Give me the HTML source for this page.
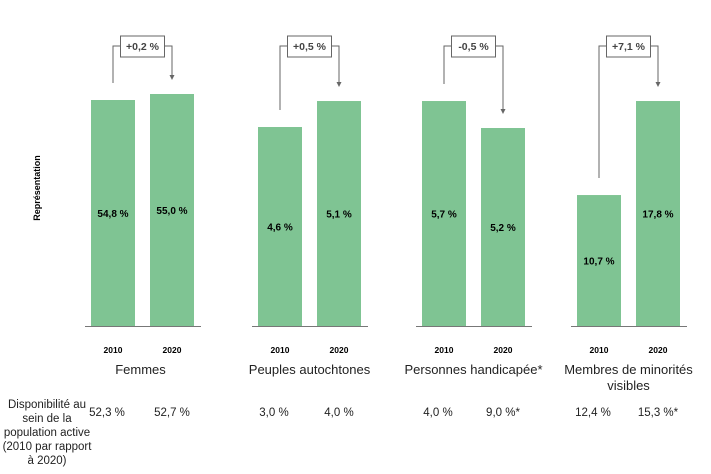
<!DOCTYPE html>
<html><head><meta charset="utf-8"><style>
body{margin:0;background:#fff;font-family:"Liberation Sans",sans-serif}
svg text{font-family:"Liberation Sans",sans-serif}
</style></head><body>
<svg id="c" width="711" height="469">
<text transform="translate(40,188) rotate(-90)" text-anchor="middle" font-size="9" font-weight="bold">Représentation</text>
<g font-size="11.5" text-anchor="middle" fill="#222">
<text x="47" y="408">Disponibilité au</text><text x="47" y="422">sein de la</text><text x="47" y="436">population active</text><text x="47" y="450">(2010 par rapport</text><text x="47" y="464">à 2020)</text>
</g>
</svg>
<script>
const categories=["Femmes","Peuples autochtones","Personnes handicapée*","Membres de minorités visibles"];
const values2010=[54.8,4.6,5.7,10.7];
const values2020=[55.0,5.1,5.2,17.8];
const changes=["+0,2 %","+0,5 %","-0,5 %","+7,1 %"];
const avail2010=["52,3 %","3,0 %","4,0 %","12,4 %"];
const avail2020=["52,7 %","4,0 %","9,0 %*","15,3 %*"];
const domMin=[47.27,0.773,1.533,0.81];
const domMax=[55.0,5.235,5.83,18.33];
const years=["2010","2020"];
const fmt=v=>v.toFixed(1).replace('.',',')+' %';
const svg=document.getElementById('c');
const NS='http://www.w3.org/2000/svg';
function mk(t,a,txt){const e=document.createElementNS(NS,t);for(const k in a)e.setAttribute(k,a[k]);if(txt!==undefined)e.textContent=txt;svg.appendChild(e);return e;}
const panelX=[91,258,422,577];
const base=326,H=232,bw=44,gap=59;
categories.forEach((cat,i)=>{
  const y=v=>base-(v-domMin[i])/(domMax[i]-domMin[i])*H;
  const x0=panelX[i],x1=x0+gap;
  const vals=[values2010[i],values2020[i]];
  let l=mk('line',{x1:x0-6,x2:x1+bw+7,y1:base+0.5,y2:base+0.5,stroke:'#777','stroke-width':1});
  
  [x0,x1].forEach((bx,j)=>{
    const top=y(vals[j]);
    let r=mk('rect',{x:bx,y:top,width:bw,height:base-top,fill:'#7fc493'});
    
    let t=mk('text',{x:bx+bw/2,y:(top+base)/2+4,'text-anchor':'middle','font-size':10,'font-weight':'bold'},fmt(vals[j]));
    
    let yt=mk('text',{x:bx+bw/2,y:353,'text-anchor':'middle','font-size':8.5,'font-weight':'bold'},years[j]);
    
  });
  const c0=x0+bw/2,c1=x1+bw/2,mid=(c0+c1)/2;
  const t0=y(vals[0]),t1=y(vals[1]);
  const ly=46;
  let p=mk('path',{d:`M${c0},${t0-17}V${ly}H${mid-22}M${mid+22},${ly}H${c1}V${t1-17}`,fill:'none',stroke:'#666','stroke-width':1});
  
  let a=mk('path',{d:`M${c1-2.5},${t1-19}L${c1+2.5},${t1-19}L${c1},${t1-14}Z`,fill:'#666'});
  
  let b=mk('rect',{x:mid-22,y:36,width:44,height:21,fill:'#fff',stroke:'#666','stroke-width':1});
  
  let bt=mk('text',{x:mid,y:50,'text-anchor':'middle','font-size':10.5,'font-weight':'bold',fill:'#444'},changes[i]);
  
  const words=i===3?["Membres de minorités","visibles"]:[cat];
  words.forEach((w,k)=>{let ct=mk('text',{x:mid+(i===0?-2:0),y:374+k*16,'text-anchor':'middle','font-size':13,fill:'#222'},w);
    });
  [[c0-6,avail2010[i]],[c1,avail2020[i]]].forEach(([ax,txt])=>{
    let at=mk('text',{x:ax,y:416,'text-anchor':'middle','font-size':11.5,fill:'#222'},txt);
    
  });
});
</script>
</body></html>
